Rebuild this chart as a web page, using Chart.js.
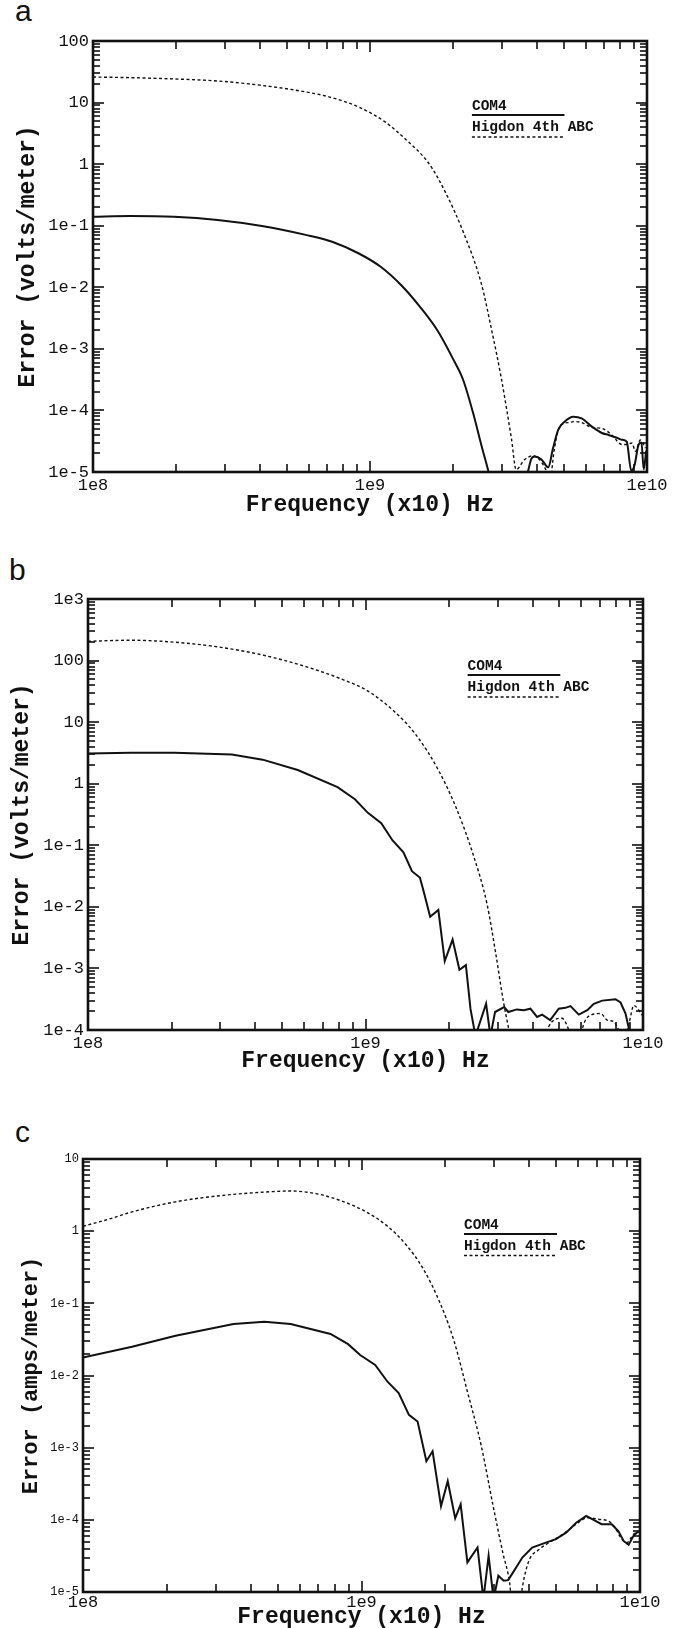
<!DOCTYPE html>
<html lang="en">
<head>
<meta charset="UTF-8">
<title>Error vs frequency</title>
<script src="https://cdn.jsdelivr.net/npm/chart.js"></script>
<style>
    html, body { margin: 0; padding: 0; background: #fff; }
    body { width: 683px; height: 1628px; position: relative; overflow: hidden; }
    .panel { position: absolute; left: 0; width: 683px; }
    .tag { position: absolute; font: 30px "Liberation Sans", Arial, sans-serif; line-height: 1; color: #111; }
</style>
</head>
<body>
<div class="tag" style="left:15px; top:-4px;">a</div>
<div class="tag" style="left:9px; top:555px;">b</div>
<div class="tag" style="left:15px; top:1117px;">c</div>

<div class="panel" style="top:0; height:530px;"><canvas id="chartA" width="683" height="530"></canvas></div>
<div class="panel" style="top:540px; height:540px;"><canvas id="chartB" width="683" height="540"></canvas></div>
<div class="panel" style="top:1090px; height:538px;"><canvas id="chartC" width="683" height="538"></canvas></div>

<script>
// ---- data (frequency in Hz, error values) ----
const xTickVals = [1e8, 1e9, 1e10];
const xTickLabels = ['1e8', '1e9', '1e10'];

// panel a: electric field error
const aYTickVals = [100, 10, 1, 1e-1, 1e-2, 1e-3, 1e-4, 1e-5];
const aYTickLabels = ['100', '10', '1', '1e-1', '1e-2', '1e-3', '1e-4', '1e-5'];
const aCom4Freq = [1e8, 1.36e8, 1.96e8, 2.82e8, 4.07e8, 5.86e8, 7.3e8, 9.08e8, 1.09e9, 1.31e9, 1.51e9, 1.75e9, 1.99e9, 2.16e9, 2.35e9, 2.52e9, 2.68e9, 2.82e9, 3.55e9, 3.72e9, 3.82e9, 3.93e9, 4.16e9, 4.4e9, 4.58e9, 4.78e9, 5.05e9, 5.42e9, 5.81e9, 6.31e9, 6.87e9, 7.26e9, 7.78e9, 8.11e9, 8.45e9, 8.77e9, 9.02e9, 9.33e9, 9.55e9, 9.73e9, 9.93e9];
const aCom4 = [0.14, 0.144, 0.14, 0.124, 0.099, 0.071, 0.055, 0.0357, 0.0217, 0.0103, 4.9e-3, 2e-3, 7e-4, 3.3e-4, 9.5e-5, 2.8e-5, 1e-5, 4e-6, 4e-6, 1.02e-5, 1.62e-5, 1.78e-5, 1.6e-5, 1.19e-5, 2.45e-5, 4.83e-5, 6.6e-5, 7.9e-5, 7.4e-5, 5.5e-5, 4.3e-5, 4e-5, 3.6e-5, 3.34e-5, 3.1e-5, 1.05e-5, 1.3e-5, 2.8e-5, 3e-5, 1.1e-5, 2.2e-5];
const aHigdonFreq = [1e8, 1.36e8, 1.96e8, 2.82e8, 4.07e8, 5.86e8, 7.3e8, 9.08e8, 1.13e9, 1.355e9, 1.63e9, 1.88e9, 2.18e9, 2.52e9, 2.75e9, 2.98e9, 3.24e9, 3.37e9, 3.61e9, 3.88e9, 4.1e9, 4.28e9, 4.47e9, 4.62e9, 4.78e9, 5.05e9, 5.2e9, 5.5e9, 5.81e9, 6.31e9, 6.87e9, 7.46e9, 8.11e9, 8.45e9, 8.83e9, 9.08e9, 9.46e9, 9.86e9];
const aHigdon = [26, 25.4, 24.2, 22.4, 19, 14.9, 12, 8.5, 4.9, 2.45, 1.03, 0.336, 0.0753, 0.0117, 2e-3, 3.3e-4, 3.5e-5, 1.09e-5, 1.58e-5, 1.84e-5, 1.58e-5, 1.17e-5, 8e-6, 2.2e-5, 4.8e-5, 6.2e-5, 6.35e-5, 6.6e-5, 6.35e-5, 5.3e-5, 5.1e-5, 4e-5, 2.8e-5, 2.8e-5, 2.95e-5, 2.16e-5, 3.3e-5, 2.45e-5];

// panel b: electric field error, second case
const bYTickVals = [1e3, 100, 10, 1, 1e-1, 1e-2, 1e-3, 1e-4];
const bYTickLabels = ['1e3', '100', '10', '1', '1e-1', '1e-2', '1e-3', '1e-4'];
const bCom4Freq = [1e8, 1.43e8, 2.05e8, 3.3e8, 4.26e8, 5.7e8, 7.93e8, 9.16e8, 1.02e9, 1.14e9, 1.25e9, 1.37e9, 1.47e9, 1.57e9, 1.61e9, 1.71e9, 1.83e9, 1.93e9, 2.06e9, 2.18e9, 2.3e9, 2.39e9, 2.49e9, 2.72e9, 2.82e9, 2.93e9, 3.16e9, 3.27e9, 3.51e9, 3.72e9, 3.93e9, 4.15e9, 4.33e9, 4.63e9, 4.97e9, 5.25e9, 5.48e9, 5.87e9, 6.3e9, 6.65e9, 7.13e9, 7.96e9, 8.3e9, 8.65e9, 9.02e9, 9.5e9, 1e10];
const bCom4 = [3.1, 3.18, 3.18, 2.98, 2.46, 1.67, 0.88, 0.56, 0.336, 0.229, 0.121, 0.077, 0.038, 0.030, 0.0198, 6.9e-3, 8.9e-3, 1.32e-3, 2.94e-3, 9.5e-4, 1.13e-3, 2.2e-4, 8e-5, 2.67e-4, 8e-5, 1.96e-4, 2.36e-4, 1.96e-4, 2.16e-4, 2.1e-4, 2.22e-4, 1.63e-4, 1.78e-4, 1.45e-4, 2.22e-4, 2.29e-4, 2.45e-4, 1.78e-4, 2.1e-4, 2.67e-4, 3.0e-4, 3.16e-4, 2.8e-4, 1.85e-4, 8e-5, 8e-5, 8e-5];
const bHigdonFreq = [1e8, 1.43e8, 2.05e8, 2.96e8, 4.26e8, 6.14e8, 8.2e8, 1.02e9, 1.27e9, 1.53e9, 1.83e9, 2.12e9, 2.45e9, 2.74e9, 2.94e9, 3.14e9, 3.27e9, 3.39e9, 4.37e9, 4.57e9, 5.1e9, 5.4e9, 5.62e9, 5.89e9, 6.03e9, 6.47e9, 7.03e9, 7.43e9, 7.85e9, 8.18e9, 8.51e9, 8.89e9, 9.27e9, 9.93e9];
const bHigdon = [206, 214, 199, 166, 123, 79, 50, 32, 14.9, 6.0, 1.67, 0.41, 0.068, 0.0112, 1.86e-3, 2.9e-4, 1.13e-4, 5e-5, 5e-5, 1.13e-4, 1.55e-4, 1e-4, 5e-5, 5e-5, 1e-4, 1.74e-4, 1.85e-4, 1.45e-4, 1.36e-4, 1e-4, 7e-5, 1.26e-4, 2.5e-4, 1.74e-4];

// panel c: magnetic field error
const cYTickVals = [10, 1, 1e-1, 1e-2, 1e-3, 1e-4, 1e-5];
const cYTickLabels = ['10', '1', '1e-1', '1e-2', '1e-3', '1e-4', '1e-5'];
const cCom4Freq = [1e8, 1.5e8, 2.15e8, 3.47e8, 4.48e8, 5.57e8, 7.74e8, 8.95e8, 9.89e8, 1.12e9, 1.24e9, 1.36e9, 1.48e9, 1.59e9, 1.71e9, 1.8e9, 1.93e9, 2.04e9, 2.17e9, 2.27e9, 2.4e9, 2.61e9, 2.74e9, 2.86e9, 2.98e9, 3.1e9, 3.24e9, 3.36e9, 3.47e9, 3.78e9, 4.1e9, 4.59e9, 4.99e9, 5.43e9, 5.9e9, 6.41e9, 6.79e9, 7.28e9, 7.91e9, 8.36e9, 8.73e9, 9.1e9, 9.48e9, 9.89e9];
const cCom4 = [0.0178, 0.0251, 0.0355, 0.0518, 0.0555, 0.0518, 0.0376, 0.0272, 0.0192, 0.014, 8.2e-3, 5.7e-3, 2.85e-3, 2.3e-3, 6.5e-4, 8.9e-4, 1.55e-4, 3.43e-4, 1.05e-4, 1.64e-4, 2.57e-5, 4.13e-5, 8e-6, 3.17e-5, 8e-6, 1.68e-5, 1.43e-5, 1.46e-5, 1.77e-5, 3e-5, 4.13e-5, 4.84e-5, 5.4e-5, 6.65e-5, 9.1e-5, 1.13e-4, 1.01e-4, 8.7e-5, 8.7e-5, 7e-5, 5.1e-5, 4.5e-5, 6e-5, 7e-5];
const cHigdonFreq = [1e8, 1.24e8, 1.5e8, 2.15e8, 3.1e8, 4.48e8, 5.57e8, 6.93e8, 8.65e8, 1.04e9, 1.24e9, 1.44e9, 1.67e9, 1.93e9, 2.15e9, 2.4e9, 2.69e9, 2.99e9, 3.22e9, 3.4e9, 3.5e9, 3.67e9, 3.78e9, 3.99e9, 4.35e9, 4.72e9, 5.28e9, 5.9e9, 6.5e9, 7.08e9, 7.69e9, 8.13e9, 8.47e9, 8.98e9, 9.48e9, 1e10];
const cHigdon = [1.17, 1.47, 1.85, 2.55, 3.1, 3.48, 3.6, 3.29, 2.55, 1.85, 1.17, 0.66, 0.296, 0.094, 0.0299, 6e-3, 1.07e-3, 1.36e-4, 3.44e-5, 1.38e-5, 5e-6, 5e-6, 1.16e-5, 2.7e-5, 3.9e-5, 4.84e-5, 6.3e-5, 8.7e-5, 1.07e-4, 1.02e-4, 9.6e-5, 7.9e-5, 5.9e-5, 4.84e-5, 6.3e-5, 6.9e-5];

const seriesNames = ['COM4', 'Higdon 4th ABC'];

// ---- styling ----
const INK = '#111';
const MONO = '"Liberation Mono", "Courier New", monospace';
Chart.defaults.font.family = MONO;
Chart.defaults.color = INK;

// log-spaced tick positions (1..9 per decade) between min and max
function logMarks(min, max) {
    const out = [];
    const e0 = Math.round(Math.log10(min)), e1 = Math.round(Math.log10(max));
    for (let e = e0; e < e1; e++) {
        for (let m = 1; m <= 9; m++) {
            if (e === e0 && m === 1) continue;
            out.push({ v: m * Math.pow(10, e), major: m === 1 });
        }
    }
    return out;
}

// box frame with inward log ticks on all four sides
const frameTicks = {
    id: 'frameTicks',
    afterDraw(chart) {
        const ctx = chart.ctx;
        const a = chart.chartArea;
        const xs = chart.scales.x, ys = chart.scales.y;
        ctx.save();
        ctx.setLineDash([]);
        ctx.fillStyle = INK;
        logMarks(1e8, 1e10).forEach(t => {
            const px = Math.round(xs.getPixelForValue(t.v));
            const len = t.major ? 11 : 8;
            ctx.fillRect(px - 0.8, a.bottom - len, 1.6, len);
            ctx.fillRect(px - 0.8, a.top, 1.6, len);
        });
        logMarks(ys.min, ys.max).forEach(t => {
            const py = Math.round(ys.getPixelForValue(t.v));
            const len = t.major ? 11 : 7;
            ctx.fillRect(a.left, py - 0.8, len, 1.6);
            ctx.fillRect(a.right - len, py - 0.8, len, 1.6);
        });
        ctx.strokeStyle = INK;
        ctx.lineWidth = 2.6;
        ctx.strokeRect(a.left, a.top, a.right - a.left, a.bottom - a.top);
        ctx.restore();
    }
};

// key drawn inside the plot: label above a sample of its line,
// placed as a fraction of the plot width
const legendBox = {
    id: 'legendBox',
    afterDraw(chart, args, opts) {
        const { ctx, chartArea: a } = chart;
        const w = a.right - a.left;
        const x0 = a.left + opts.from * w;
        const x1 = a.left + opts.to * w;
        ctx.save();
        ctx.fillStyle = INK;
        ctx.strokeStyle = INK;
        ctx.font = opts.font;
        ctx.textBaseline = 'middle';
        ctx.textAlign = 'left';
        chart.data.datasets.forEach((ds, i) => {
            ctx.fillText(ds.label, x0, a.top + opts.rows[i * 2]);
            const ly = a.top + opts.rows[i * 2 + 1];
            ctx.setLineDash(ds.borderDash || []);
            ctx.lineWidth = ds.borderWidth;
            ctx.beginPath();
            ctx.moveTo(x0, ly);
            ctx.lineTo(x1, ly);
            ctx.stroke();
        });
        ctx.restore();
    }
};

function pts(freq, vals) {
    return freq.map((f, i) => ({ x: f, y: vals[i] }));
}

function makePanel(id, p) {
    const smoothLine = { cubicInterpolationMode: 'monotone' };
    return new Chart(document.getElementById(id), {
        type: 'line',
        data: {
            datasets: [
                Object.assign({ label: seriesNames[0], data: pts(p.com4Freq, p.com4), borderColor: INK, borderWidth: 2,
                  pointRadius: 0, tension: 0 }, p.smooth ? smoothLine : {}),
                Object.assign({ label: seriesNames[1], data: pts(p.higdonFreq, p.higdon), borderColor: INK, borderWidth: 1.4,
                  borderDash: [3, 2.5], pointRadius: 0 }, smoothLine)
            ]
        },
        options: {
            responsive: false,
            animation: false,
            layout: { padding: { left: 0, top: p.padTop, right: p.padRight, bottom: 0 } },
            plugins: {
                legend: { display: false },
                tooltip: { enabled: false },
                legendBox: { from: 0.684, to: 0.851, rows: p.legendRows, font: 'bold 14.5px ' + MONO }
            },
            scales: {
                x: {
                    type: 'logarithmic', min: 1e8, max: 1e10,
                    afterBuildTicks: s => { s.ticks = xTickVals.map(v => ({ value: v })); },
                    afterFit: s => { s.height = p.xHeight; },
                    ticks: { callback: (v, i) => xTickLabels[i], font: { size: 17 }, padding: p.xTickPad, maxRotation: 0, autoSkip: false, color: INK },
                    grid: { display: false, drawTicks: false },
                    border: { display: false },
                    title: { display: true, text: 'Frequency (x10) Hz', font: { size: 23, weight: 'bold', lineHeight: 1 }, padding: { top: 0, bottom: p.xTitlePad }, color: INK }
                },
                y: {
                    type: 'logarithmic', min: p.yTickVals[p.yTickVals.length - 1], max: p.yTickVals[0],
                    afterBuildTicks: s => { s.ticks = p.yTickVals.slice().reverse().map(v => ({ value: v })); },
                    afterFit: s => { s.width = p.yWidth; },
                    ticks: { callback: (v, i) => p.yTickLabels[p.yTickLabels.length - 1 - i], font: { size: p.yTickSize }, padding: 4, autoSkip: false, color: INK },
                    grid: { display: false, drawTicks: false },
                    border: { display: false },
                    title: { display: true, text: p.yTitle, font: { size: p.yTitleSize, weight: 'bold', lineHeight: 1 }, padding: { top: p.yTitlePad, bottom: 0 }, color: INK }
                }
            }
        },
        plugins: [frameTicks, legendBox]
    });
}

makePanel('chartA', {
    com4Freq: aCom4Freq, com4: aCom4, higdonFreq: aHigdonFreq, higdon: aHigdon, smooth: true,
    yTickVals: aYTickVals, yTickLabels: aYTickLabels, yTickSize: 17,
    yTitle: 'Error (volts/meter)', yTitleSize: 23, yTitlePad: 17,
    padTop: 41, padRight: 36, yWidth: 93, xHeight: 58, xTickPad: 3, xTitlePad: 13,
    legendRows: [65, 74, 86, 96]
});

makePanel('chartB', {
    com4Freq: bCom4Freq, com4: bCom4, higdonFreq: bHigdonFreq, higdon: bHigdon, smooth: false,
    yTickVals: bYTickVals, yTickLabels: bYTickLabels, yTickSize: 17,
    yTitle: 'Error (volts/meter)', yTitleSize: 23, yTitlePad: 11,
    padTop: 59, padRight: 40, yWidth: 88, xHeight: 50, xTickPad: 3, xTitlePad: 7,
    legendRows: [67, 76, 88, 98]
});

makePanel('chartC', {
    com4Freq: cCom4Freq, com4: cCom4, higdonFreq: cHigdonFreq, higdon: cHigdon, smooth: false,
    yTickVals: cYTickVals, yTickLabels: cYTickLabels, yTickSize: 12,
    yTitle: 'Error (amps/meter)', yTitleSize: 22, yTitlePad: 20,
    padTop: 69, padRight: 43, yWidth: 83, xHeight: 36, xTickPad: 0, xTitlePad: -1,
    legendRows: [66, 75, 87.5, 96.5]
});
</script>
</body>
</html>
